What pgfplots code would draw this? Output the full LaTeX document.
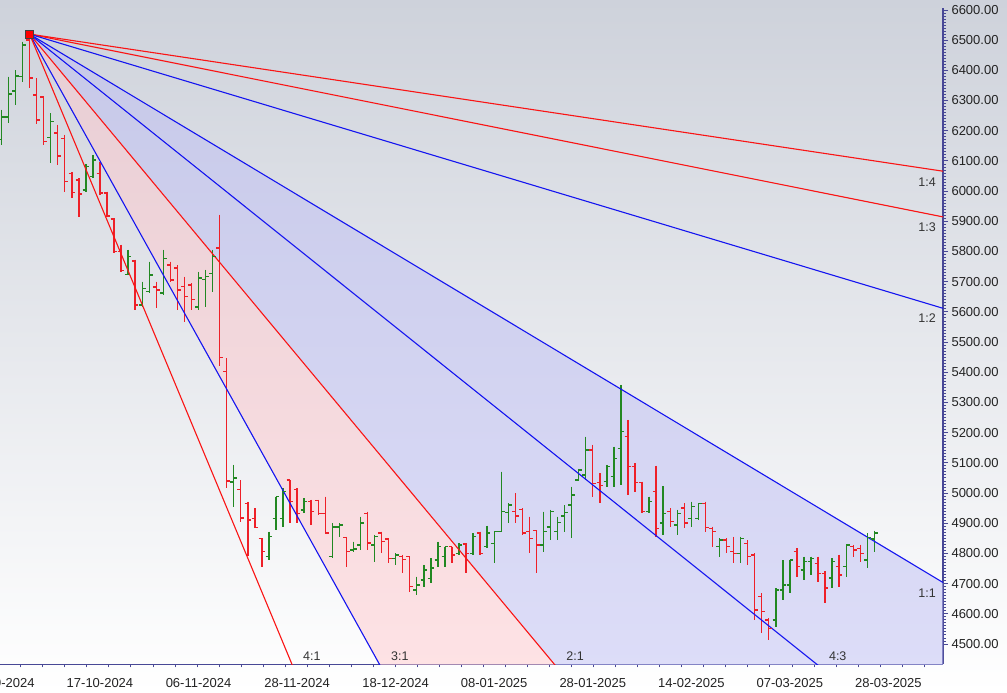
\documentclass[border=0pt]{standalone}
\usepackage{fontspec}
\setmainfont{Liberation Sans}
\usepackage{pgfplots}
\usepackage{pgfplotstable}
\pgfplotsset{compat=1.18}
\definecolor{bgtop}{RGB}{206,210,219}
\definecolor{axisblue}{RGB}{72,72,150}
\definecolor{gbar}{RGB}{34,136,34}
\definecolor{rbar}{RGB}{238,32,40}
\definecolor{fanred}{RGB}{250,20,20}
\definecolor{fanblue}{RGB}{20,20,240}
\definecolor{fillblue}{RGB}{190,190,244}
\definecolor{fillred}{RGB}{255,200,205}
\definecolor{txt}{RGB}{35,35,35}
\pgfdeclareplotmark{ltick}{\pgfpathmoveto{\pgfpoint{-3.3pt}{0pt}}\pgfpathlineto{\pgfpoint{0pt}{0pt}}\pgfusepathqstroke}
\pgfdeclareplotmark{rtick}{\pgfpathmoveto{\pgfpoint{0pt}{0pt}}\pgfpathlineto{\pgfpoint{3.3pt}{0pt}}\pgfusepathqstroke}

\pgfplotstableread{
i o h l c
0 6170 6269 6153 6246
1 6246 6379 6227 6322
2 6332 6401 6285 6381
3 6379 6495 6362 6484
7 6178 6258 6092 6230
12 6004 6090 5998 6081
13 6048 6120 6042 6103
18 5724 5805 5722 5783
20 5623 5700 5617 5678
21 5667 5766 5662 5722
23 5662 5805 5656 5777
28 5616 5732 5606 5712
29 5708 5739 5617 5718
30 5728 5805 5667 5783
33 5037 5093 4955 5050
38 4789 4872 4778 4855
39 4916 4988 4877 4988
40 4916 5016 4888 5004
43 4944 4982 4933 4971
47 4789 4900 4784 4888
48 4888 4900 4855 4894
50 4811 4839 4806 4814
51 4828 4922 4811 4900
53 4828 4861 4772 4855
56 4784 4800 4762 4795
59 4679 4723 4662 4695
60 4712 4762 4690 4745
61 4717 4784 4701 4751
62 4778 4839 4756 4822
63 4789 4822 4756 4822
65 4800 4833 4795 4828
67 4800 4867 4795 4855
69 4822 4891 4817 4867
70 4833 4872 4767 4872
71 4872 5071 4872 4938
72 4935 4966 4900 4960
77 4828 4938 4806 4872
78 4888 4944 4844 4938
79 4872 4922 4844 4902
80 4924 4960 4872 4935
81 4960 5021 4850 4993
82 5043 5080 5040 5076
83 5060 5187 5043 5142
86 5038 5093 5021 5087
87 5054 5154 5021 5115
88 5148 5358 5027 5203
92 4938 4988 4933 4971
94 4900 5023 4861 4933
96 4894 4944 4861 4933
98 4916 4971 4888 4955
99 4916 4966 4911 4966
102 4822 4850 4789 4844
105 4800 4855 4767 4850
110 4579 4685 4557 4679
111 4679 4778 4646 4695
112 4695 4778 4668 4778
114 4745 4789 4712 4773
115 4773 4789 4729 4784
118 4718 4784 4685 4773
120 4756 4828 4723 4828
123 4778 4867 4751 4853
124 4848 4875 4806 4868
}\greenbars

\pgfplotstableread{
i o h l c
4 6500 6520 6341 6374
5 6318 6374 6221 6236
6 6311 6311 6153 6164
8 6192 6219 6087 6116
9 6175 6186 5998 6031
10 6059 6064 5976 5995
11 6037 6042 5915 5990
14 6059 6097 5987 5994
15 5994 5998 5914 5918
16 5907 5910 5794 5799
17 5800 5822 5733 5737
19 5769 5772 5606 5623
22 5682 5700 5613 5672
24 5755 5766 5700 5706
25 5745 5755 5606 5672
26 5684 5716 5567 5650
27 5689 5695 5606 5640
31 5811 5921 5419 5448
32 5402 5446 5016 5040
34 5012 5043 4905 4917
35 4966 4971 4790 4911
36 4916 4950 4883 4885
37 4850 4850 4756 4806
41 5043 5043 4900 4971
42 5012 5016 4900 4933
44 4971 4977 4894 4938
45 4975 4977 4927 4933
46 4933 4988 4866 4868
49 4853 4855 4756 4806
52 4933 4938 4811 4834
54 4867 4872 4800 4839
55 4847 4850 4767 4784
57 4789 4795 4734 4780
58 4789 4789 4673 4690
64 4822 4822 4767 4795
66 4831 4833 4734 4800
68 4867 4872 4795 4800
73 4938 4999 4900 4924
74 4946 4950 4861 4867
75 4872 4922 4800 4850
76 4875 4877 4736 4828
84 5142 5159 4988 5032
85 5035 5065 4966 5025
89 5187 5242 4994 5087
90 5087 5099 5004 5034
91 5034 5038 4933 4938
93 5004 5090 4855 4883
95 4938 4950 4889 4905
97 4950 4966 4883 4900
100 4966 4971 4872 4886
101 4883 4889 4822 4872
103 4844 4850 4800 4822
104 4806 4855 4767 4800
106 4833 4844 4762 4789
107 4795 4800 4579 4613
108 4657 4668 4535 4607
109 4579 4585 4513 4552
113 4806 4817 4723 4756
116 4767 4789 4706 4734
117 4734 4740 4637 4685
119 4756 4795 4690 4729
121 4822 4828 4789 4811
122 4817 4828 4773 4800
}\redbars

\begin{document}
\begin{tikzpicture}
\shade[top color=bgtop, bottom color=white] (0pt,-28.7pt) rectangle (1007pt,664.3pt);
\begin{axis}[
  at={(0pt,0pt)}, anchor=south west,
  scale only axis, width=943pt, height=656.3pt,
  xmin=-0.2, xmax=133.75, ymin=4432.7, ymax=6606.6,
  axis x line*=bottom, axis y line*=right,
  axis line style={axisblue, line width=1.3pt},
  tick align=outside,
  major tick length=5pt, minor tick length=3pt,
  xtick={0,14,...,126},
  xticklabels={26-09-2024,17-10-2024,06-11-2024,28-11-2024,18-12-2024,08-01-2025,28-01-2025,14-02-2025,07-03-2025,28-03-2025},
  major x tick style={draw=none},
  minor xtick={2.74,5.87,...,134},
  minor x tick style={axisblue, line width=0.8pt},
  ytick={4500,4600,...,6600},
  minor y tick num=9,
  y tick style={axisblue, line width=0.8pt},
  tick label style={font=\fontsize{13}{15}\selectfont, text=txt},
  xticklabel style={yshift=-5.5pt},
  yticklabel style={/pgf/number format/fixed, /pgf/number format/fixed zerofill, /pgf/number format/precision=2, /pgf/number format/1000 sep={}},
  /pgf/number format/assume math mode=true,
]
% fan fills
\addplot[draw=none, fill=fillblue, fill opacity=0.5, forget plot] coordinates {(4,6520) (200,3776) (200,1032) (4,6520)};
\addplot[draw=none, fill=fillred, fill opacity=0.5, forget plot] coordinates {(4,6520) (200,1032) (200,-1712) (4,6520)};
% OHLC bars: high-low lines
\addplot[only marks, mark size=0pt, mark options={draw=none, fill=none}, gbar, forget plot, error bars/.cd, y dir=minus, y explicit, error mark=none, error bar style={gbar, line width=1.4pt}] table[x=i, y=h, y error minus expr=\thisrow{h}-\thisrow{l}] {\greenbars};
\addplot[only marks, mark=ltick, gbar, line width=1.4pt, forget plot] table[x=i, y=o] {\greenbars};
\addplot[only marks, mark=rtick, gbar, line width=1.4pt, forget plot] table[x=i, y=c] {\greenbars};
\addplot[only marks, mark size=0pt, mark options={draw=none, fill=none}, rbar, forget plot, error bars/.cd, y dir=minus, y explicit, error mark=none, error bar style={rbar, line width=1.4pt}] table[x=i, y=h, y error minus expr=\thisrow{h}-\thisrow{l}] {\redbars};
\addplot[only marks, mark=ltick, rbar, line width=1.4pt, forget plot] table[x=i, y=o] {\redbars};
\addplot[only marks, mark=rtick, rbar, line width=1.4pt, forget plot] table[x=i, y=c] {\redbars};
% fan lines
\addplot[fanred, line width=1.1pt] coordinates {(4,6520) (200,5834)};
\addplot[fanred, line width=1.1pt] coordinates {(4,6520) (200,5605.3)};
\addplot[fanblue, line width=1.1pt] coordinates {(4,6520) (200,5148)};
\addplot[fanblue, line width=1.1pt] coordinates {(4,6520) (200,3776)};
\addplot[fanblue, line width=1.1pt] coordinates {(4,6520) (200,2861.3)};
\addplot[fanred, line width=1.1pt] coordinates {(4,6520) (200,1032)};
\addplot[fanblue, line width=1.1pt] coordinates {(4,6520) (200,-1712)};
\addplot[fanred, line width=1.1pt] coordinates {(4,6520) (200,-4456)};
% origin
\addplot[only marks, mark=square*, mark size=4pt, mark options={fill=red, draw=black!75, line width=1pt}] coordinates {(4,6520)};
% labels
\begin{scope}[every node/.style={font=\fontsize{12.5}{15}\selectfont, text=black!80, inner sep=0pt}]
\node at (axis cs:131.5,6030) {1:4};
\node at (axis cs:131.5,5881) {1:3};
\node at (axis cs:131.5,5580) {1:2};
\node at (axis cs:131.5,4669) {1:1};
\node at (axis cs:44.1,4460) {4:1};
\node at (axis cs:56.6,4460) {3:1};
\node at (axis cs:81.5,4460) {2:1};
\node at (axis cs:118.8,4460) {4:3};
\end{scope}
\end{axis}
\pgfresetboundingbox
\path[use as bounding box] (0pt,-28.7pt) rectangle (1007pt,664.3pt);
\end{tikzpicture}
\end{document}
